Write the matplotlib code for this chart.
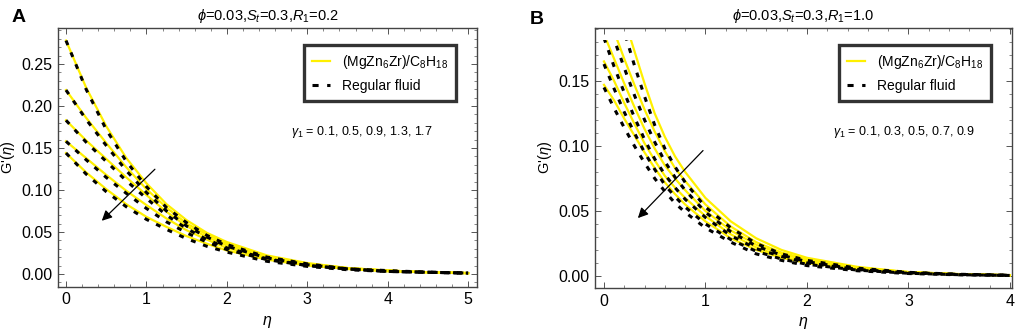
import numpy as np
import matplotlib
matplotlib.use("Agg")
import matplotlib.pyplot as plt
from matplotlib.patches import Rectangle
from matplotlib.lines import Line2D

plt.rcParams['font.family'] = ['Liberation Sans', 'DejaVu Sans']
plt.rcParams['mathtext.fontset'] = 'custom'
plt.rcParams['mathtext.rm'] = 'Liberation Sans'
plt.rcParams['mathtext.it'] = 'Liberation Sans:italic'

# ---- panel A data (R1 = 0.2), gamma1 = 0.1, 0.5, 0.9, 1.3, 1.7
eta_a = [0, 0.25, 0.5, 0.75, 1.0, 1.25, 1.5, 1.75, 2.0, 2.5, 3.0, 3.5, 4.0, 4.5, 5.0]
nano_a = [
    [0.278, 0.222, 0.176, 0.138, 0.108, 0.083, 0.064, 0.049, 0.038, 0.022, 0.013, 0.007, 0.004, 0.002, 0.001],
    [0.219, 0.186, 0.156, 0.127, 0.101, 0.079, 0.060, 0.047, 0.036, 0.021, 0.012, 0.007, 0.004, 0.002, 0.001],
    [0.183, 0.159, 0.137, 0.115, 0.094, 0.074, 0.057, 0.044, 0.034, 0.020, 0.012, 0.007, 0.004, 0.002, 0.001],
    [0.158, 0.138, 0.118, 0.099, 0.082, 0.066, 0.052, 0.041, 0.031, 0.019, 0.011, 0.006, 0.004, 0.002, 0.001],
    [0.144, 0.121, 0.101, 0.083, 0.068, 0.056, 0.045, 0.036, 0.028, 0.017, 0.010, 0.006, 0.003, 0.002, 0.001],
]
reg_a = [
    [0.278, 0.220, 0.172, 0.134, 0.104, 0.079, 0.061, 0.046, 0.035, 0.020, 0.012, 0.006, 0.004, 0.002, 0.001],
    [0.219, 0.184, 0.153, 0.123, 0.097, 0.075, 0.057, 0.044, 0.033, 0.019, 0.011, 0.006, 0.003, 0.002, 0.001],
    [0.183, 0.157, 0.134, 0.111, 0.090, 0.070, 0.054, 0.041, 0.031, 0.018, 0.010, 0.006, 0.003, 0.002, 0.001],
    [0.158, 0.136, 0.115, 0.096, 0.078, 0.062, 0.049, 0.038, 0.029, 0.017, 0.010, 0.006, 0.003, 0.002, 0.001],
    [0.144, 0.119, 0.098, 0.080, 0.065, 0.053, 0.042, 0.033, 0.026, 0.015, 0.009, 0.005, 0.003, 0.002, 0.001],
]

# ---- panel B data (R1 = 1.0), gamma1 = 0.1, 0.3, 0.5, 0.7, 0.9
eta_b = [0, 0.1, 0.2, 0.3, 0.4, 0.5, 0.6, 0.7, 0.8, 1.0, 1.25, 1.5, 1.75, 2.0, 2.5, 3.0, 3.5, 4.0]
nano_b = [
    [0.245, 0.222, 0.198, 0.173, 0.148, 0.125, 0.107, 0.092, 0.080, 0.060, 0.042, 0.029, 0.020, 0.014, 0.007, 0.003, 0.0015, 0.0007],
    [0.208, 0.188, 0.167, 0.147, 0.128, 0.111, 0.096, 0.083, 0.073, 0.055, 0.038, 0.026, 0.018, 0.013, 0.006, 0.003, 0.0014, 0.0006],
    [0.186, 0.167, 0.148, 0.130, 0.113, 0.098, 0.085, 0.075, 0.066, 0.050, 0.035, 0.024, 0.017, 0.012, 0.006, 0.003, 0.0013, 0.0006],
    [0.165, 0.150, 0.133, 0.117, 0.102, 0.089, 0.077, 0.068, 0.060, 0.046, 0.032, 0.022, 0.015, 0.011, 0.005, 0.0025, 0.0012, 0.0005],
    [0.147, 0.135, 0.121, 0.108, 0.095, 0.083, 0.072, 0.063, 0.055, 0.042, 0.029, 0.020, 0.014, 0.010, 0.005, 0.0023, 0.0011, 0.0005],
]
reg_b = [
    [0.240, 0.214, 0.188, 0.162, 0.138, 0.116, 0.098, 0.084, 0.072, 0.053, 0.037, 0.025, 0.017, 0.012, 0.006, 0.0028, 0.0013, 0.0006],
    [0.205, 0.182, 0.160, 0.139, 0.120, 0.103, 0.088, 0.076, 0.066, 0.049, 0.034, 0.023, 0.016, 0.011, 0.005, 0.0026, 0.0012, 0.0005],
    [0.183, 0.161, 0.141, 0.122, 0.105, 0.090, 0.078, 0.068, 0.059, 0.045, 0.031, 0.021, 0.015, 0.010, 0.005, 0.0024, 0.0011, 0.0005],
    [0.163, 0.144, 0.126, 0.110, 0.095, 0.082, 0.070, 0.061, 0.053, 0.040, 0.028, 0.019, 0.013, 0.009, 0.0045, 0.0021, 0.0010, 0.0004],
    [0.145, 0.129, 0.114, 0.100, 0.087, 0.075, 0.065, 0.056, 0.049, 0.037, 0.026, 0.017, 0.012, 0.008, 0.004, 0.0019, 0.0009, 0.0004],
]

YELLOW = '#FFF000'
DASH = (0, (1.6, 2.6))


def draw_panel(ax, eta, nano, reg, clip_top, xlim, ylim, xticks, yticks,
               title, gamma_text, gamma_xy, arrow_from, arrow_to, letter, letter_xy):
    clip = Rectangle((-1, -1), 10, 1 + clip_top, transform=ax.transData)
    for ys in nano:
        ln, = ax.plot(eta, ys, color=YELLOW, lw=1.6, zorder=2)
        ln.set_clip_path(clip)
    for ys in reg:
        ln, = ax.plot(eta, ys, color='black', lw=2.2, ls=DASH, zorder=3)
        ln.set_clip_path(clip)

    ax.set_xlim(*xlim)
    ax.set_ylim(*ylim)
    ax.set_xticks(xticks)
    ax.set_yticks(yticks)
    ax.set_yticklabels(['%.2f' % v for v in yticks])
    ax.minorticks_on()
    ax.tick_params(which='both', direction='in', top=True, right=True,
                   labelsize=11.5, color='#555555', pad=4)
    ax.tick_params(which='major', length=4, width=0.7)
    ax.tick_params(which='minor', length=2, width=0.5)
    for s in ax.spines.values():
        s.set_color('#444444')
        s.set_linewidth(1.0)

    ax.set_title(title, fontsize=10.5, pad=6)
    ax.set_xlabel(r'$\eta$', fontsize=11.5, labelpad=5)
    ax.set_ylabel(r"G'($\eta$)", fontsize=10.5, labelpad=3)

    handles = [Line2D([], [], color=YELLOW, lw=1.6),
               Line2D([], [], color='black', lw=2.2, ls=(0, (2.0, 2.8)))]
    leg = ax.legend(handles, [r'(MgZn$_6$Zr)/C$_8$H$_{18}$', 'Regular fluid'],
                    loc='upper right', bbox_to_anchor=(0.96, 0.95),
                    fontsize=10, frameon=True, fancybox=False,
                    handlelength=1.3, handletextpad=0.9, borderpad=0.55,
                    labelspacing=0.6, borderaxespad=0.3)
    leg.get_frame().set_edgecolor('black')
    leg.get_frame().set_linewidth(2.4)

    ax.text(gamma_xy[0], gamma_xy[1], gamma_text, transform=ax.transAxes,
            fontsize=9, ha='left', va='center')
    ax.annotate('', xy=arrow_to, xytext=arrow_from,
                arrowprops=dict(arrowstyle='-|>', color='black', lw=0.9,
                                mutation_scale=15))
    ax.text(letter_xy[0], letter_xy[1], letter, transform=ax.transAxes,
            fontsize=14, fontweight='bold', ha='center', va='center')


fig = plt.figure(figsize=(10.24, 3.36), dpi=100)
ax_a = fig.add_axes([0.0566, 0.146, 0.4092, 0.7708])
ax_b = fig.add_axes([0.581, 0.143, 0.4072, 0.774])

draw_panel(ax_a, eta_a, nano_a, reg_a, 0.28, (-0.1, 5.11), (-0.0155, 0.293),
           [0, 1, 2, 3, 4, 5], [0.0, 0.05, 0.10, 0.15, 0.20, 0.25],
           r'$\phi$=0.03,$S_t$=0.3,$R_1$=0.2',
           r'$\gamma_1$ = 0.1, 0.5, 0.9, 1.3, 1.7', (0.555, 0.6),
           (1.13, 0.127), (0.42, 0.061), 'A', (-0.095, 1.04))
draw_panel(ax_b, eta_b, nano_b, reg_b, 0.1815, (-0.089, 4.02), (-0.0092, 0.1908),
           [0, 1, 2, 3, 4], [0.0, 0.05, 0.10, 0.15],
           r'$\phi$=0.03,$S_t$=0.3,$R_1$=1.0',
           r'$\gamma_1$ = 0.1, 0.3, 0.5, 0.7, 0.9', (0.57, 0.6),
           (0.995, 0.098), (0.315, 0.043), 'B', (-0.139, 1.032))

fig.savefig('out.png', dpi=100)
